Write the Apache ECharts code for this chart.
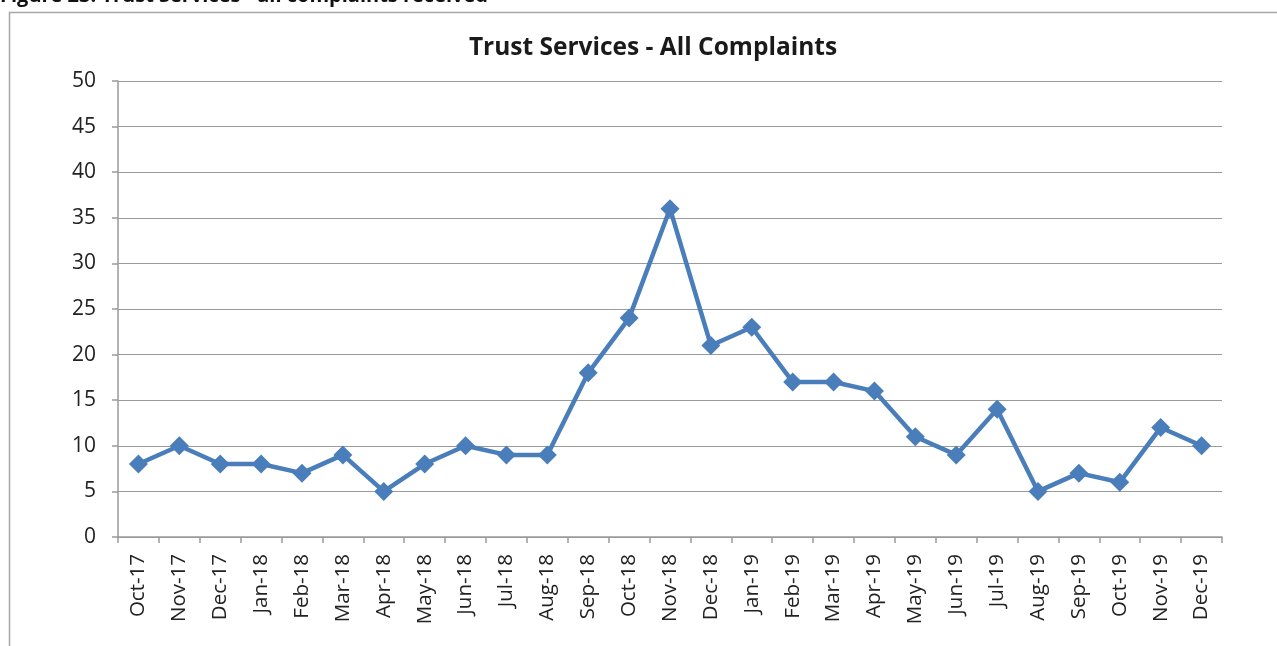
<!DOCTYPE html>
<html>
<head>
<meta charset="utf-8">
<script src="https://cdn.jsdelivr.net/npm/echarts@6/dist/echarts.min.js"></script>
<style>
html,body{margin:0;padding:0;background:#fff;}
#chart{width:1277px;height:646px;}
</style>
</head>
<body>
<div id="chart"></div>
<script>
// Monthly complaint counts, Oct 2017 – Dec 2019
const months = ['Oct-17','Nov-17','Dec-17','Jan-18','Feb-18','Mar-18','Apr-18','May-18','Jun-18','Jul-18','Aug-18','Sep-18','Oct-18','Nov-18','Dec-18','Jan-19','Feb-19','Mar-19','Apr-19','May-19','Jun-19','Jul-19','Aug-19','Sep-19','Oct-19','Nov-19','Dec-19'];
const complaints = [8,10,8,8,7,9,5,8,10,9,9,18,24,36,21,23,17,17,16,11,9,14,5,7,6,12,10];
const yMin = 0, yMax = 50, yStep = 5;

const font = "'Open Sans', 'Liberation Sans', sans-serif";
const chart = echarts.init(document.getElementById('chart'));
chart.setOption({
  animation: false,
  backgroundColor: '#fff',
  title: {
    text: 'Trust Services - All Complaints',
    left: 648, top: 31, textAlign: 'center',
    textStyle: { fontFamily: font, fontSize: 24.5, fontWeight: 'bold', color: '#1a1a1a' }
  },
  graphic: [
    { type: 'text', left: 0, top: -14,
      style: { text: 'Figure 23: Trust Services - all complaints received', font: "bold 20px 'Open Sans', sans-serif", fill: '#111' } },
    { type: 'rect', shape: { x: 9.5, y: 12.5, width: 1300, height: 700 },
      style: { fill: 'none', stroke: '#a6a6a6', lineWidth: 1.5 } }
  ],
  grid: { left: 118, right: 55, top: 81, bottom: 109, containLabel: false },
  xAxis: {
    type: 'category',
    data: months,
    boundaryGap: true,
    axisLine: { lineStyle: { color: '#9a9a9a', width: 1.5 } },
    axisTick: { show: true, length: 6, alignWithLabel: false, lineStyle: { color: '#9a9a9a', width: 1.5 } },
    axisLabel: { rotate: 90, interval: 0, margin: 17, fontFamily: font, fontSize: 20.5, color: '#222' }
  },
  yAxis: {
    type: 'value',
    min: yMin, max: yMax, interval: yStep,
    axisLine: { show: true, lineStyle: { color: '#9a9a9a', width: 1.5 } },
    axisTick: { show: true, length: 6, lineStyle: { color: '#9a9a9a', width: 1.5 } },
    axisLabel: { margin: 22, fontFamily: font, fontSize: 21, color: '#222' },
    splitLine: { lineStyle: { color: '#9a9a9a', width: 1.2 } }
  },
  series: [{
    type: 'line',
    data: complaints,
    symbol: 'diamond',
    symbolSize: 19,
    itemStyle: { color: '#4a7ebb' },
    lineStyle: { color: '#4a7ebb', width: 4.5 }
  }]
});
</script>
</body>
</html>
